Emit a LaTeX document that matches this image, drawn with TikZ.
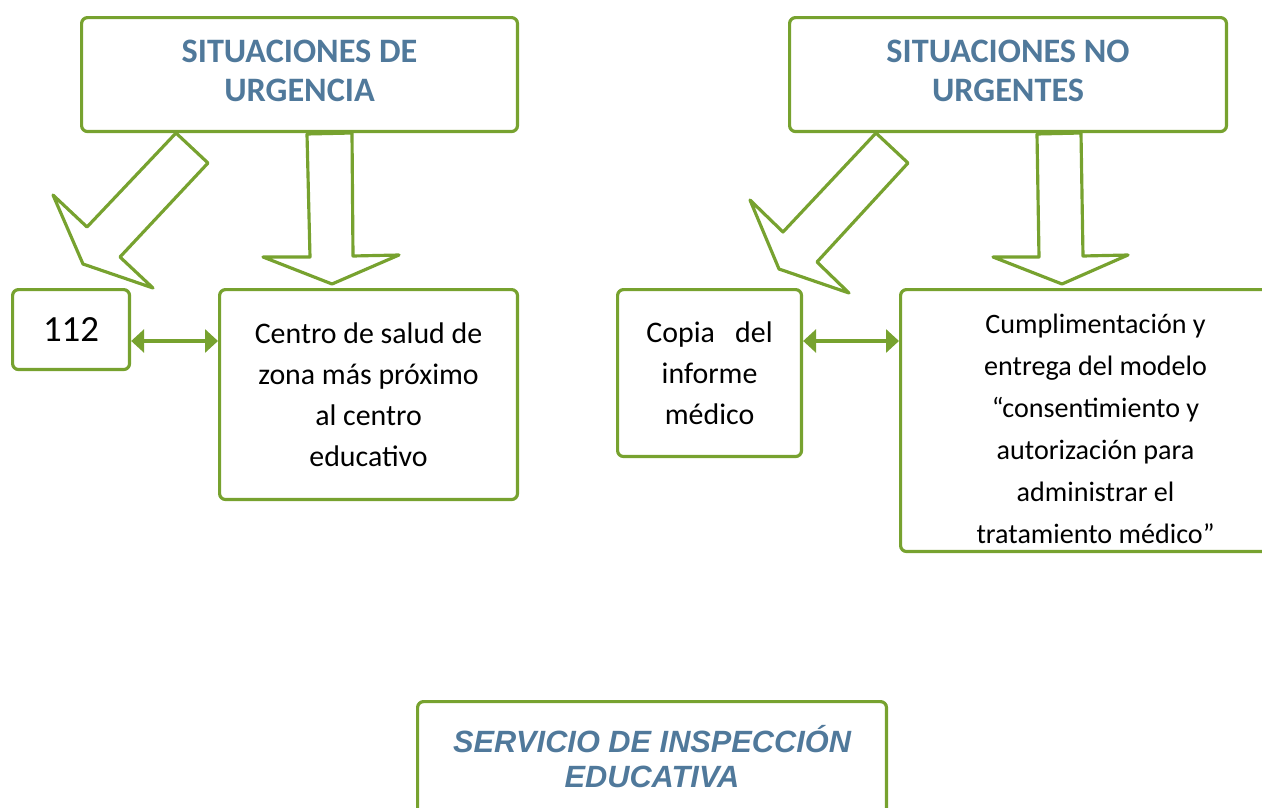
\documentclass[tikz,border=0pt]{standalone}
\usepackage{fontspec}
\setmainfont{Carlito}
\newfontfamily\arialfont{Liberation Sans}
\usetikzlibrary{arrows.meta}

\definecolor{boxgreen}{HTML}{77A22F}
\definecolor{titleblue}{HTML}{50799B}

\tikzset{
  box/.style={draw=boxgreen, line width=1.8pt, rounded corners=0.12cm, anchor=north west, inner sep=0pt, align=flush center},
  blockarrow/.style={draw=boxgreen, line width=1.8pt, line join=round, fill=white},
  link/.style={boxgreen, line width=1.8pt, {Triangle[length=0.26cm,width=0.46cm]}-{Triangle[length=0.26cm,width=0.46cm]}},
  title/.style={text=titleblue, font=\fontsize{19.5}{22.2}\selectfont\bfseries, text width=8.7cm, text height=0pt, text depth=0.5cm},
  body/.style={font=\fontsize{17}{23.3}\selectfont},
}

\begin{document}
\begin{tikzpicture}[x=0.02cm, y=-0.02cm]
\useasboundingbox (0,0) rectangle (1262,808);

% block arrows
\draw[blockarrow] (176,133) -- (208,163) -- (120,257) -- (153,288) -- (83,264) -- (53,195) -- (87,227) -- cycle;
\draw[blockarrow] (307,134) -- (352,133) -- (353,256) -- (399,255) -- (332,284) -- (263,257) -- (310,257) -- cycle;
\draw[blockarrow] (876,133) -- (908,163) -- (817,262) -- (849,293) -- (779,269) -- (750,200) -- (783,232) -- cycle;
\draw[blockarrow] (1037,134) -- (1081,133) -- (1083,256) -- (1128,255) -- (1062,284) -- (993,257) -- (1039,257) -- cycle;

% situaciones
\node[box, title, minimum width=8.72cm, minimum height=2.28cm] (urgencia) at (80,16) {SITUACIONES DE\\URGENCIA};
\node[box, title, minimum width=8.74cm, minimum height=2.28cm] (nourgencia) at (788,16) {SITUACIONES NO\\URGENTES};

% urgencia
\node[box, font=\fontsize{21}{24}\selectfont, minimum width=2.34cm, minimum height=1.6cm] (n112) at (11,288) {112};
\node[box, body, minimum width=5.96cm, minimum height=4.2cm] (centro) at (218,288) {Centro de salud de\\zona más próximo\\al centro\\educativo};

% no urgencia
\node[box, body, minimum width=3.68cm, minimum height=3.34cm] (copia) at (616,288) {Copia~~~del\\informe\\médico};
\node[box, font=\fontsize{16}{23.9}\selectfont, text width=7.8cm, text height=0pt, text depth=3.48cm, minimum width=7.8cm, minimum height=5.24cm] (cumpl) at (899,288) {Cumplimentación y\\entrega del modelo\\“consentimiento y\\autorización para\\administrar el\\tratamiento médico”};

% links
\coordinate (lnk) at (0,341);
\draw[link] (n112.east |- lnk) -- (centro.west |- lnk);
\draw[link] (copia.east |- lnk) -- (cumpl.west |- lnk);

% inspeccion
\node[box, text=titleblue, font=\arialfont\fontsize{17.5}{20}\selectfont\bfseries\itshape, text width=9.38cm, text height=0pt, text depth=0.28cm, minimum width=9.38cm, minimum height=2.32cm] (inspeccion) at (416,700) {SERVICIO DE INSPECCIÓN\\EDUCATIVA};

\end{tikzpicture}
\end{document}
